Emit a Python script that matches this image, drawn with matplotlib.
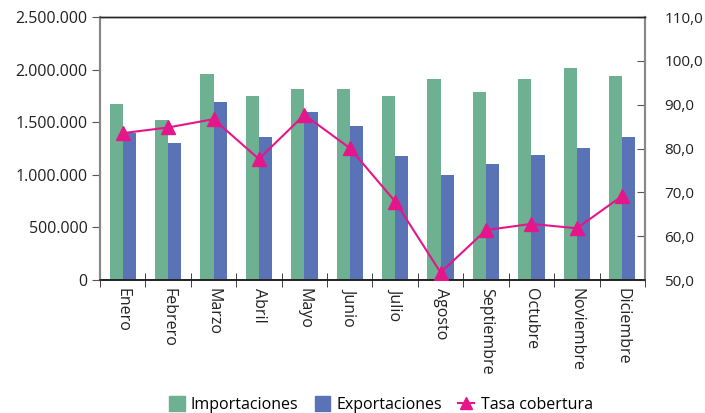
import matplotlib
matplotlib.use("Agg")
import matplotlib.pyplot as plt
import numpy as np
from matplotlib.ticker import FuncFormatter, FixedLocator
from matplotlib.patches import Patch
from matplotlib.lines import Line2D

months = ["Enero", "Febrero", "Marzo", "Abril", "Mayo", "Junio", "Julio",
          "Agosto", "Septiembre", "Octubre", "Noviembre", "Diciembre"]
importaciones = [1675000, 1523000, 1961000, 1751000, 1818000, 1818000,
                 1751000, 1913000, 1789000, 1913000, 2018000, 1942000]
exportaciones = [1402000, 1304000, 1694000, 1361000, 1599000, 1466000,
                 1180000, 999000, 1104000, 1190000, 1256000, 1361000]
tasa = [83.5, 84.8, 86.7, 77.6, 87.7, 80.1, 67.9, 51.7, 61.4, 62.8, 61.8, 69.2]

green = "#6db192"
blue = "#5a73b6"
pink = "#e5158a"

plt.rcParams['font.family'] = ['Open Sans', 'DejaVu Sans']

fig = plt.figure(figsize=(7.05, 4.13), dpi=100)
ax = fig.add_axes([0.1418, 0.322, 0.7731, 0.6368])
ax2 = ax.twinx()

x = np.arange(len(months))
w = 0.29
ax.bar(x - w/2, importaciones, width=w, color=green, zorder=2)
ax.bar(x + w/2, exportaciones, width=w, color=blue, zorder=2)
ax.set_xlim(-0.5, len(months) - 0.5)
ax.set_ylim(0, 2500000)
ax.set_yticks(np.arange(0, 2500001, 500000))
ax.yaxis.set_major_formatter(FuncFormatter(lambda v, p: f"{int(v):,}".replace(",", ".")))

ax2.plot(x, tasa, color=pink, lw=1.5, marker='^', markersize=10, zorder=3)
ax2.set_ylim(50, 110)
ax2.set_yticks(np.arange(50, 111, 10))
ax2.yaxis.set_major_formatter(FuncFormatter(lambda v, p: f"{v:.1f}".replace(".", ",")))

ax.set_xticks(x)
ax.set_xticklabels(months, rotation=270, fontsize=11.5, color="#222222")
ax.tick_params(axis='x', which='major', length=0, pad=6)
ax.xaxis.set_minor_locator(FixedLocator(np.arange(-0.5, len(months), 1.0)))
ax.tick_params(axis='x', which='minor', length=10, direction='inout', color='#222222')
ax.tick_params(axis='y', length=6, direction='out', color='#555555', labelsize=11.5, labelcolor='#222222', pad=3)
ax2.tick_params(axis='y', length=6, direction='in', color='#555555', labelsize=11, labelcolor='#222222', pad=14)

for a in (ax, ax2):
    a.spines['top'].set_color('#222222')
    a.spines['top'].set_linewidth(1.0)
    a.spines['bottom'].set_color('#222222')
    a.spines['bottom'].set_linewidth(1.2)
    a.spines['left'].set_color('#888888')
    a.spines['left'].set_linewidth(1.5)
    a.spines['right'].set_color('#888888')
    a.spines['right'].set_linewidth(1.5)

ax2.set_zorder(ax.get_zorder() + 1)
ax2.patch.set_visible(False)

handles = [Patch(color=green, label="Importaciones"),
           Patch(color=blue, label="Exportaciones"),
           Line2D([0], [0], color=pink, lw=1.5, marker='^', markersize=9, label="Tasa cobertura")]
fig.legend(handles=handles, loc='center', bbox_to_anchor=(0.54, 0.02), ncol=3,
           frameon=False, fontsize=11.5, handlelength=1.0, handleheight=1.0,
           handletextpad=0.4, columnspacing=1.0)

fig.savefig("out.png", dpi=100)
